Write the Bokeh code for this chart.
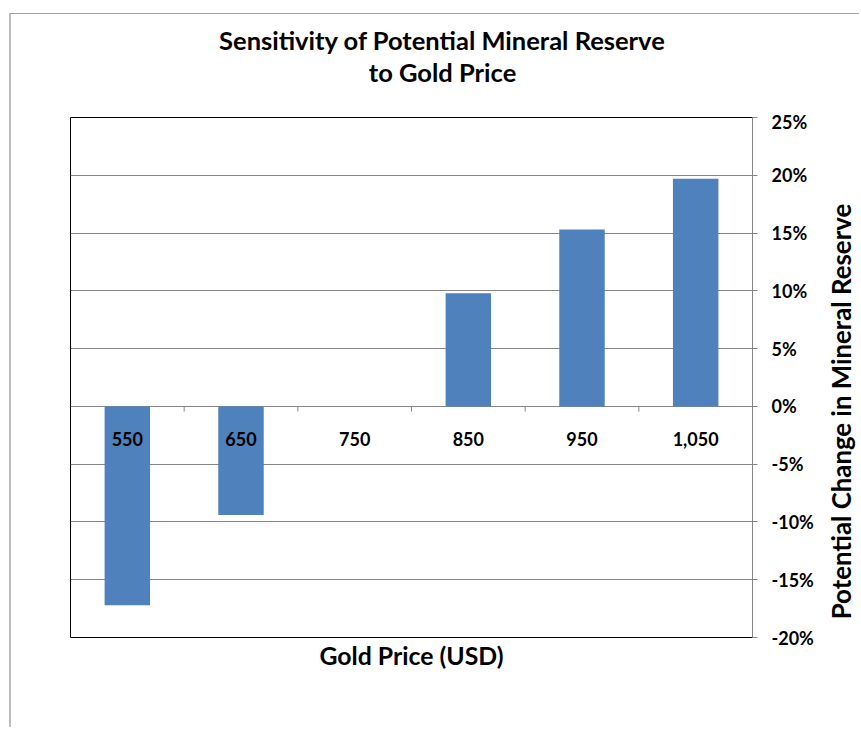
import math
from bokeh.plotting import figure
from bokeh.layouts import column, row
from bokeh.models import Range1d, LinearAxis, FixedTicker, PrintfTickFormatter, Label
from bokeh.core.properties import value
from bokeh.embed import file_html
from bokeh.resources import INLINE

prices = ["550", "650", "750", "850", "950", "1,050"]
change = [-17.2, -9.4, 0.0, 9.8, 15.3, 19.7]
y_ticks = [-20, -15, -10, -5, 0, 5, 10, 15, 20, 25]
title_lines = ["Sensitivity of Potential Mineral Reserve", "to Gold Price"]
y_title = "Potential Change in Mineral Reserve"
x_title = "Gold Price (USD)"

FONT = "Lato"
n = len(prices)
xs = list(range(n))

TOTAL_W = 859
TITLE_H = 110
P_W = 823
Q_W = TOTAL_W - P_W
P_H = 617


def blank(w, h):
    f = figure(frame_width=w, frame_height=h, output_backend="svg", toolbar_location=None,
               x_range=Range1d(0, w), y_range=Range1d(0, h), x_axis_location=None,
               y_axis_location=None, min_border=0)
    f.border_fill_color = None
    f.background_fill_color = None
    f.outline_line_color = None
    f.xgrid.visible = False
    f.ygrid.visible = False
    return f


# title block
t = blank(TOTAL_W, TITLE_H)
for txt, yy in zip(title_lines, [TITLE_H - 39, TITLE_H - 71]):
    t.add_layout(Label(x=442, y=yy, text=txt, text_align="center", text_baseline="middle",
                       text_font=FONT, text_font_size="25.5px", text_font_style="bold",
                       text_color="black"))

# main chart
p = figure(frame_width=682, frame_height=520, output_backend="svg", toolbar_location=None,
           x_range=Range1d(-0.5, n - 0.5), y_range=Range1d(y_ticks[0], y_ticks[-1]),
           y_axis_location="right", x_axis_location=None,
           min_border_left=70, min_border_top=7, min_border_bottom=90,
           min_border_right=P_W - 70 - 682)
p.border_fill_color = None
p.background_fill_color = "white"
p.outline_line_color = "black"
p.outline_line_width = 1
p.xgrid.visible = False
p.ygrid.ticker = FixedTicker(ticks=y_ticks)
p.ygrid.grid_line_color = "#868686"

ya = p.yaxis[0]
ya.ticker = FixedTicker(ticks=y_ticks)
ya.formatter = PrintfTickFormatter(format="%d%%")
ya.axis_line_color = "#868686"
ya.major_tick_line_color = "#868686"
ya.major_tick_out = 5
ya.major_tick_in = 0
ya.minor_tick_line_color = None
ya.major_label_standoff = 14
ya.major_label_text_font = FONT
ya.major_label_text_font_style = "bold"
ya.major_label_text_font_size = "18px"
ya.major_label_text_color = "black"

xa = LinearAxis(ticker=FixedTicker(ticks=[]), axis_line_color=None,
                major_tick_line_color=None, minor_tick_line_color=None,
                axis_label=x_title, axis_label_text_font=FONT,
                axis_label_text_font_style="bold", axis_label_text_font_size="24.8px",
                axis_label_text_color="black", axis_label_standoff=3)
p.add_layout(xa, "below")

p.vbar(x=xs, top=change, bottom=0, width=0.4, fill_color="#4F81BD", line_color=None)

bounds = [i + 0.5 for i in range(n - 1)]
p.segment(x0=bounds, y0=[0] * len(bounds), x1=bounds, y1=[-0.45] * len(bounds),
          line_color="#868686", line_width=1)

p.text(x=xs, y=[0] * n, text=prices, y_offset=33, text_align="center", text_baseline="middle",
       text_font=value(FONT), text_font_style="bold", text_font_size="18px", text_color="black")

# right-hand axis title, reading bottom to top
q = blank(Q_W, P_H)
q.add_layout(Label(x=Q_W / 2 - 1, y=P_H - (404 - TITLE_H), text=y_title, angle=math.pi / 2,
                   text_align="center", text_baseline="middle", text_font=FONT,
                   text_font_size="25.8px", text_font_style="bold", text_color="black"))

layout = column(t, row(p, q, spacing=0), spacing=0)
layout.styles = {
    "background-image": "linear-gradient(#A6A6A6,#A6A6A6), linear-gradient(#BDBDBD,#BDBDBD)",
    "background-size": "100% 1px, 2px 100%",
    "background-position": "10px 13px, 9px 13px",
    "background-repeat": "no-repeat",
}

open("out.html", "w").write(file_html(layout, INLINE))
